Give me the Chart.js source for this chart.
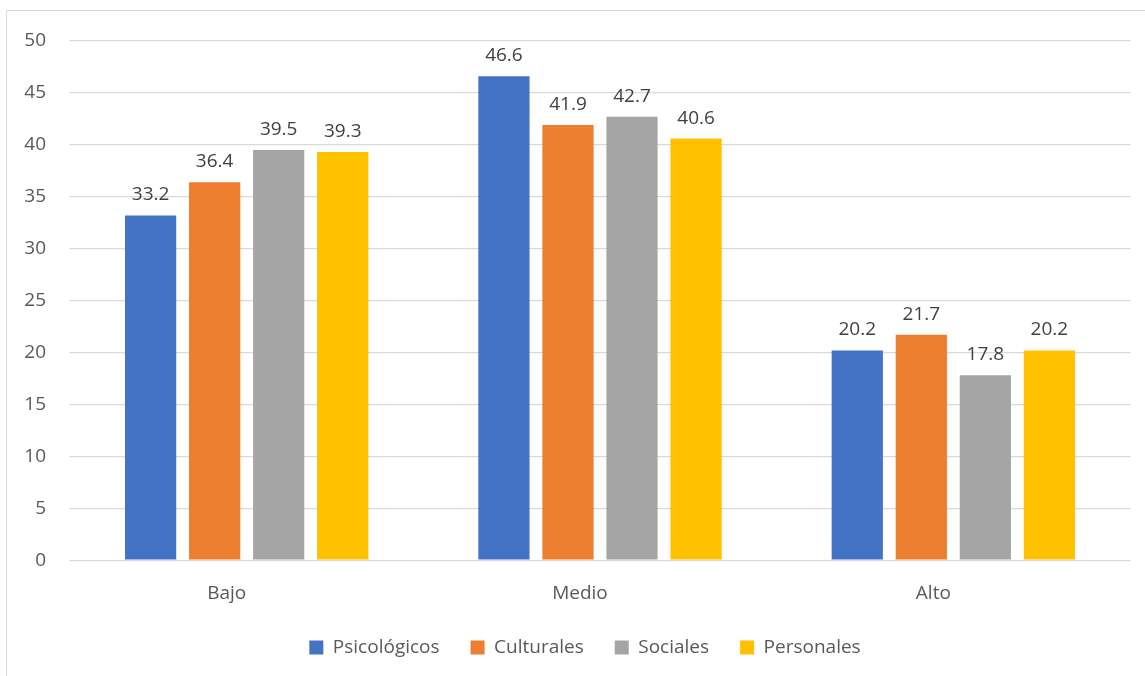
<!DOCTYPE html>
<html>
<head>
<meta charset="utf-8">
<script src="https://cdn.jsdelivr.net/npm/chart.js@4.4.1/dist/chart.umd.min.js"></script>
<style>
  html, body { margin: 0; padding: 0; background: #ffffff; overflow: hidden; }
  #frame { position: absolute; left: 6px; top: 10px; width: 1200px; height: 700px; border: 1px solid #D9D9D9; box-sizing: border-box; }
  #wrap { position: absolute; left: 0; top: 0; width: 1145px; height: 676px; }
</style>
</head>
<body>
<div id="frame"></div>
<div id="wrap"><canvas id="c" width="1145" height="676"></canvas></div>
<script>
const categories = ["Bajo", "Medio", "Alto"];
const seriesNames = ["Psicológicos", "Culturales", "Sociales", "Personales"];
const psicologicos = [33.2, 46.6, 20.2];
const culturales = [36.4, 41.9, 21.7];
const sociales = [39.5, 42.7, 17.8];
const personales = [39.3, 40.6, 20.2];
const seriesColors = ["#4472C4", "#ED7D31", "#A5A5A5", "#FFC000"];
const yTicks = [0, 5, 10, 15, 20, 25, 30, 35, 40, 45, 50];

const FONT = "'Open Sans', 'DejaVu Sans', sans-serif";

const valueLabels = {
  id: 'valueLabels',
  afterDatasetsDraw(chart) {
    const ctx = chart.ctx;
    ctx.save();
    ctx.font = "19px " + FONT;
    ctx.fillStyle = "#404040";
    ctx.textAlign = "center";
    ctx.textBaseline = "alphabetic";
    chart.data.datasets.forEach((ds, di) => {
      const meta = chart.getDatasetMeta(di);
      meta.data.forEach((el, i) => {
        ctx.fillText(ds.data[i].toFixed(1), el.x, el.y - 15);
      });
    });
    ctx.restore();
  }
};

const legendShift = {
  id: 'legendShift',
  afterLayout(chart) {
    const lg = chart.legend;
    if (lg) { lg.left += 40; lg.top -= 20; lg.bottom -= 20; }
  }
};

const allSeries = [psicologicos, culturales, sociales, personales];

new Chart(document.getElementById('c'), {
  type: 'bar',
  data: {
    labels: categories,
    datasets: allSeries.map((d, i) => ({
      label: seriesNames[i],
      data: d,
      backgroundColor: seriesColors[i],
      borderWidth: 0,
      categoryPercentage: 0.725,
      barPercentage: 0.8
    }))
  },
  options: {
    responsive: false,
    animation: false,
    layout: { padding: { top: 41, left: 0, right: 15, bottom: -11 } },
    plugins: {
      tooltip: { enabled: false },
      legend: {
        position: 'bottom',
        labels: {
          boxWidth: 14,
          boxHeight: 14,
          padding: 31,
          color: "#595959",
          font: { family: FONT, size: 19 }
        }
      }
    },
    scales: {
      x: {
        grid: { display: false, drawTicks: false },
        border: { display: false },
        ticks: {
          color: "#595959",
          font: { family: FONT, size: 19 },
          padding: 22,
          labelOffset: -20
        }
      },
      y: {
        min: 0,
        max: 50,
        afterBuildTicks(scale) { scale.ticks = yTicks.map(v => ({ value: v })); },
        afterFit(scale) { scale.width = 70; },
        grid: { color: "#D9D9D9", lineWidth: 1.3, drawTicks: false },
        border: { display: false },
        ticks: {
          color: "#595959",
          font: { family: FONT, size: 19 },
          padding: 24
        }
      }
    }
  },
  plugins: [valueLabels, legendShift]
});
</script>
</body>
</html>
